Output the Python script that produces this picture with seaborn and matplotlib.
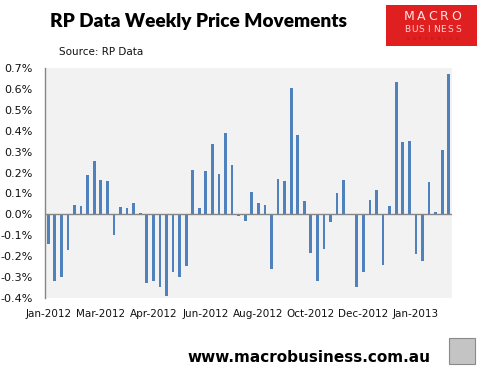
import matplotlib
matplotlib.use("Agg")
import matplotlib.pyplot as plt
import seaborn as sns
import pandas as pd
from matplotlib.patches import Rectangle

# ---- data (weekly % change) ----
weeks = list(range(62))
values = [
    -0.14, -0.32, -0.30, -0.17, 0.045, 0.04, 0.19, 0.255, 0.165, 0.16,
    -0.10, 0.037, 0.03, 0.054, 0.006, -0.33, -0.317, -0.345, -0.39, -0.275,
    -0.30, -0.245, 0.212, 0.03, 0.207, 0.337, 0.193, 0.39, 0.236, -0.006,
    -0.03, 0.107, 0.054, 0.045, -0.263, 0.169, 0.16, 0.604, 0.38, 0.064,
    -0.187, -0.317, -0.164, -0.035, 0.102, 0.164, -0.005, -0.346, -0.275, 0.069,
    0.116, -0.24, 0.04, 0.633, 0.346, 0.35, -0.19, -0.223, 0.155, 0.011,
    0.31, 0.671,
]
tick_labels = ["Jan-2012", "Mar-2012", "Apr-2012", "Jun-2012",
               "Aug-2012", "Oct-2012", "Dec-2012", "Jan-2013"]
y_ticks = [-0.4, -0.3, -0.2, -0.1, 0.0, 0.1, 0.2, 0.3, 0.4, 0.5, 0.6, 0.7]

df = pd.DataFrame({"week": weeks, "change": values})

sns.set_style("white")
plt.rcParams["font.family"] = ["DejaVu Sans"]
plt.rcParams["text.color"] = "black"

W, H = 484, 379
fig = plt.figure(figsize=(W / 100, H / 100), dpi=100)
ax = fig.add_axes([45 / W, 1 - 298 / H, (452 - 45) / W, (298 - 68) / H])
ax.set_facecolor("#f2f2f2")

sns.barplot(data=df, x="week", y="change", color="#4f81bd", width=0.42,
            saturation=1, ax=ax, edgecolor="none")

ax.set_xlim(-0.5, len(weeks) - 0.5)
ax.set_ylim(-0.4, 0.7)
ax.axhline(0, color="#868686", lw=1.0, zorder=3)

ax.set_yticks(y_ticks)
ax.set_yticklabels([f"{v:.1f}%" for v in y_ticks], fontsize=8, color="#111111")
ax.set_xticks(list(range(0, len(weeks), 8)))
ax.set_xticklabels(tick_labels, fontsize=7.5, color="#111111")
ax.tick_params(axis="x", length=0, pad=8)
ax.tick_params(axis="y", length=0, pad=9)
ax.set_xlabel("")
ax.set_ylabel("")
for s in ["top", "right", "bottom"]:
    ax.spines[s].set_visible(False)
ax.spines["left"].set_color("#868686")
ax.spines["left"].set_linewidth(1.0)

# ---- titles ----
fig.text(198 / W, 1 - 21 / H, "RP Data Weekly Price Movements", ha="center",
         va="center", fontsize=13.7, fontweight="heavy", color="black",
         family=["Lato", "DejaVu Sans"])
fig.text(59 / W, 1 - 52 / H, "Source: RP Data", ha="left", va="center",
         fontsize=7.5, color="#111111")
fig.text(430 / W, 1 - 357 / H, "www.macrobusiness.com.au", ha="right",
         va="center", fontsize=11, fontweight="bold", color="black")

# ---- logo ----
fig.patches.append(Rectangle((386 / W, 1 - 46 / H), 91 / W, 41 / H,
                             transform=fig.transFigure, facecolor="#e02020",
                             edgecolor="none"))


def spaced(word, x0, x1, y, size, color):
    n = len(word)
    for i, ch in enumerate(word):
        x = x0 + (x1 - x0) * (i / (n - 1))
        fig.text(x / W, 1 - y / H, ch, ha="center", va="center", fontsize=size,
                 color=color)


spaced("MACRO", 409, 456, 17, 9, "#ffe5e5")
spaced("BUSINESS", 407, 458, 30, 6.5, "#ffd0d0")
spaced("SUPERBLOG", 408, 457, 39, 3.2, "#b81515")

# wolf icon placeholder
fig.patches.append(Rectangle((449 / W, 1 - 364 / H), 26 / W, 26 / H,
                             transform=fig.transFigure, facecolor="#c4c4c4",
                             edgecolor="#8a8a8a", lw=0.8))

fig.savefig("out.png", dpi=100)
